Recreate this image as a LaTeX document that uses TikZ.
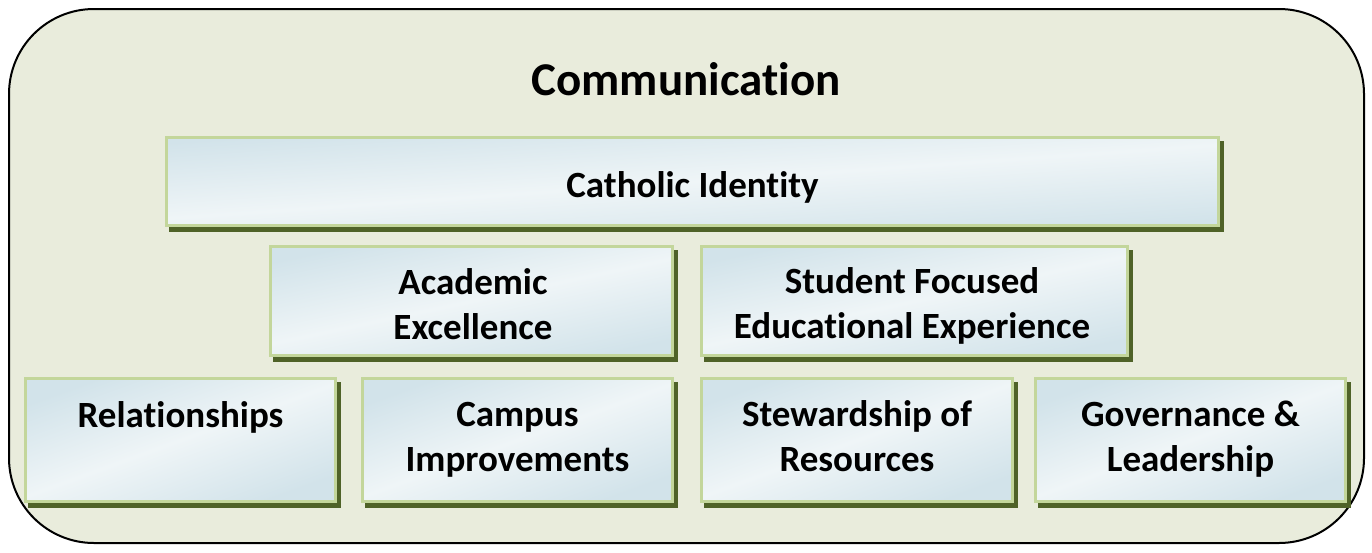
\documentclass[tikz,border=0pt]{standalone}
\usepackage{fontspec}
\setmainfont{Carlito}[Ligatures={NoCommon}]
\definecolor{bgc}{HTML}{E9ECDC}
\definecolor{boxline}{HTML}{C3D69B}
\definecolor{shadowc}{HTML}{4F6228}
\definecolor{bdark}{HTML}{D2E3EA}
\definecolor{blight}{HTML}{EFF5F7}
\newcommand{\ls}{\rule[-13.5pt]{0pt}{45pt}}
\begin{document}
\begin{tikzpicture}[x=1pt,y=-1pt,
  box/.style={draw=boxline, line width=3pt, top color=bdark, bottom color=bdark, middle color=blight, shading angle=#1, inner sep=0pt,
    preaction={draw=shadowc, fill=shadowc, line width=3pt, transform canvas={xshift=4pt,yshift=-5pt}}},
  box/.default=10,
  lbl/.style={font=\fontsize{37}{45}\selectfont\bfseries, align=center, text=black, inner sep=0pt},
  ttl/.style={font=\fontsize{47}{50}\selectfont\bfseries, text=black, inner sep=0pt}]
\useasboundingbox (0,0) rectangle (1372,552);
\draw[rounded corners=85pt, line width=2pt, fill=bgc] (9,9) rectangle (1364,543);
\node[ttl] (comm) at (686,79) {Communication};
% top row
\node[box=4, minimum width=1052pt, minimum height=88pt] (ci) at (692.5,181.5) {};
\node[lbl] (cit) at (692.5,188) {\ls Catholic Identity};
% middle row
\node[box=12, minimum width=402pt, minimum height=109pt] (ae) at (471.5,301) {};
\node[box=12, minimum width=426pt, minimum height=109pt] (sf) at (914.5,301) {};
\node[lbl] (aet) at (473,308) {\ls Academic\\\ls Excellence};
\node[lbl] (sft) at (912,306.5) {\ls Student Focused\\\ls Educational Experience};
% bottom row boxes
\node[box=20, minimum width=310pt, minimum height=123pt] (rel) at (180.5,440) {};
\node[box=20, minimum width=310pt, minimum height=123pt] (cam) at (517.5,440) {};
\node[box=20, minimum width=311pt, minimum height=123pt] (stw) at (857,440) {};
\node[box=20, minimum width=310pt, minimum height=123pt] (gov) at (1190.5,440) {};
% bottom row labels
\node[lbl] (relt) at (180.5,418) {\ls Relationships};
\node[lbl] (camt) at (517.5,440) {\ls Campus\\\ls Improvements};
\node[lbl] (stwt) at (857,440) {\ls Stewardship of\\\ls Resources};
\node[lbl] (govt) at (1190.5,440) {\ls Governance \&\\\ls Leadership};
\end{tikzpicture}
\end{document}
